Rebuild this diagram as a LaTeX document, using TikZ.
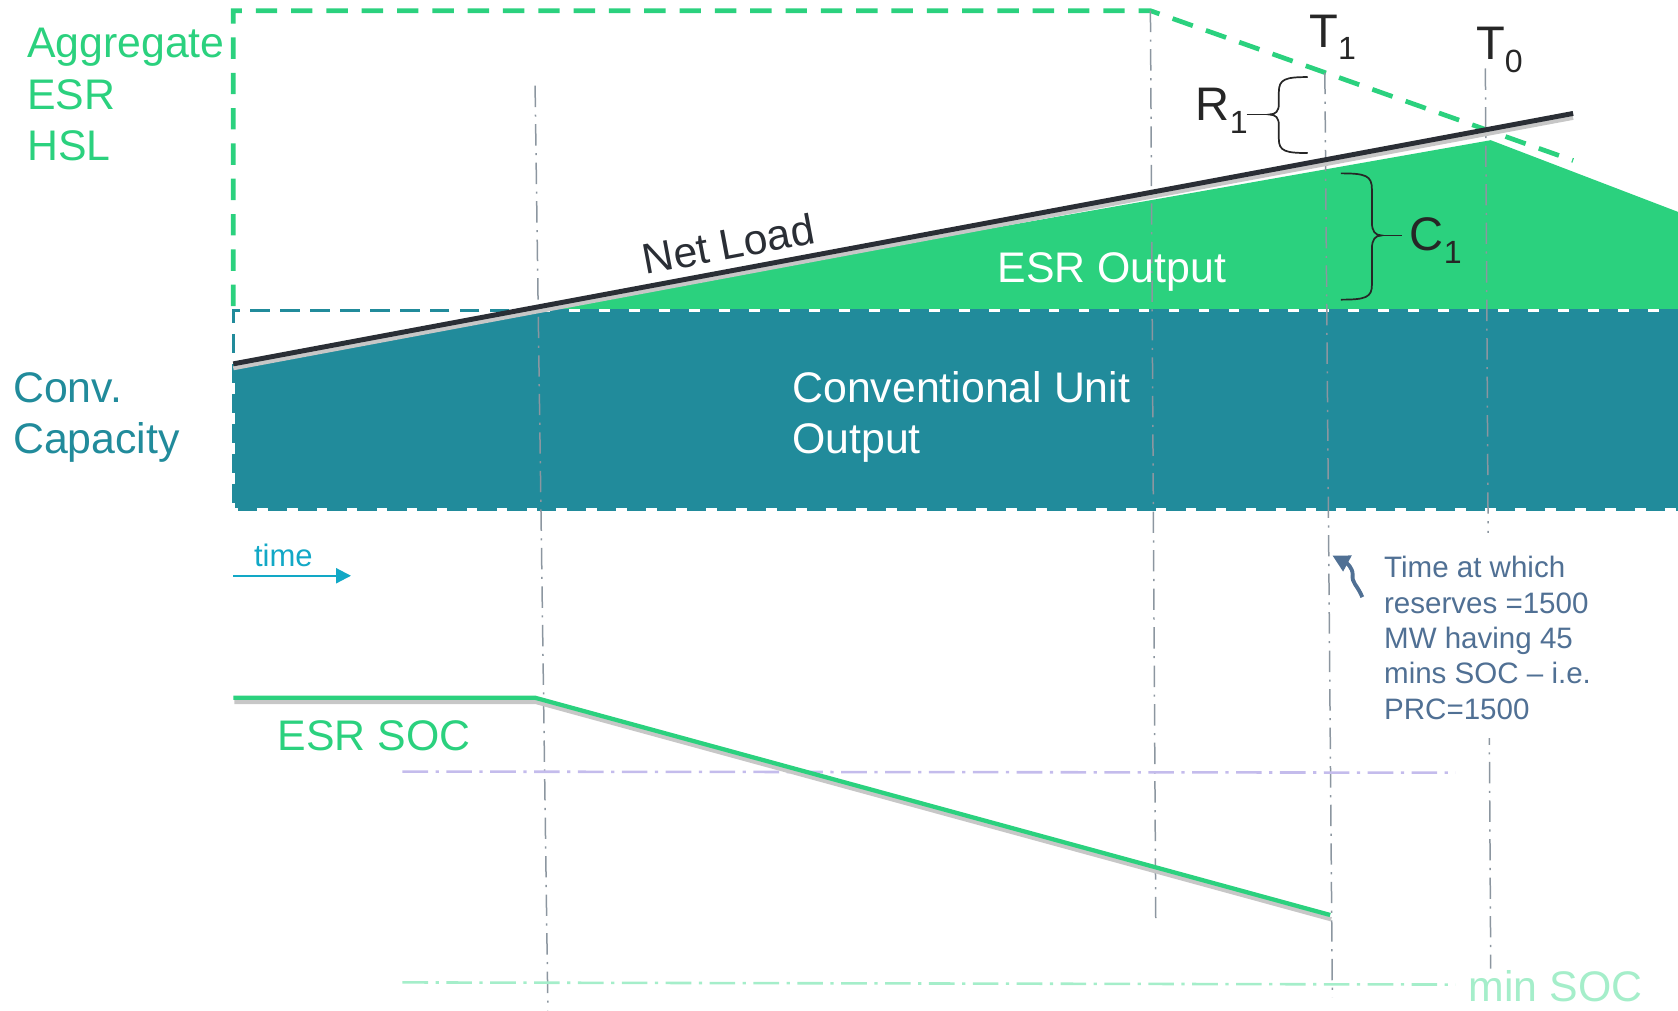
\documentclass[tikz,border=0pt]{standalone}
\usepackage{fontspec}
\setmainfont{Liberation Sans}
\usetikzlibrary{arrows.meta}
\definecolor{esrgreen}{RGB}{43,209,126}
\definecolor{convteal}{RGB}{33,139,155}
\definecolor{netdark}{RGB}{42,46,53}
\definecolor{txtdark}{RGB}{38,38,38}
\definecolor{guidegray}{RGB}{140,150,160}
\definecolor{lav}{RGB}{196,188,236}
\definecolor{mingreen}{RGB}{165,238,202}
\definecolor{timecyan}{RGB}{18,168,198}
\definecolor{callblue}{RGB}{80,112,148}
\newcommand\myfs[2]{\fontsize{#1}{#2}\selectfont}
\newcommand\mysub[1]{\raisebox{-6pt}{\myfs{15}{15}#1}}
\begin{document}
\begin{tikzpicture}[x=0.5pt,y=-0.5pt,
  lbl/.style={font=\myfs{20}{24}, inner sep=0pt, anchor=base west},
  bigl/.style={font=\myfs{22}{26}, inner sep=0pt, anchor=base west, text=txtdark},
  guide/.style={draw=guidegray, line width=0.7pt, dash pattern=on 10pt off 3.5pt on 1pt off 3.5pt},
  hguide/.style={line width=1.2pt, dash pattern=on 12pt off 3.5pt on 1.5pt off 3.5pt},
  bracepath/.style={draw=txtdark, line width=0.8pt},
  calltxt/.style={font=\myfs{13.8}{16.5}, inner sep=0pt, anchor=base west, text=callblue}]
\useasboundingbox (0,0) rectangle (1568,944);

% fills
\fill[convteal] (218,340) -- (486,290) -- (1568,290) -- (1568,476) -- (218,476) -- cycle;
\fill[esrgreen] (492,290) -- (1393,131) -- (1568,198) -- (1568,290) -- cycle;

% conventional box dashed border (open on the right, the box runs off the page)
\draw[white, line width=1.6pt] (1568,290) -- (218,290) -- (218,476) -- (1568,476);
\draw[convteal, line width=1.6pt, dash pattern=on 9pt off 5pt] (1568,290) -- (218,290) -- (218,476) -- (1568,476);

% aggregate ESR HSL dashed outline
\draw[esrgreen, line width=2.2pt, dash pattern=on 10pt off 6.5pt] (218,286) -- (218,10) -- (1075,10) -- (1470,150);

% vertical guides
\draw[guide] (500,80) -- (512,944);
\draw[guide] (1075,10) -- (1080,862);
\draw[guide] (1238,68) -- (1245,932);
\draw[guide] (1388,64) -- (1393,905);

% horizontal SOC guides
\draw[hguide, lav] (376,721) -- (1360,722);
\draw[hguide, mingreen] (376,918) -- (1360,920);

% net load
\draw[black!22, line width=2pt] (218,344) -- (1470,110);
\draw[netdark, line width=2.3pt] (218,340) -- (1470,106);

% ESR SOC line
\draw[black!22, line width=2pt] (219,656) -- (501,656) -- (1244,859);
\draw[esrgreen, line width=2pt] (218,652) -- (500,652) -- (1243,855);

% labels
\node[lbl, text=esrgreen] (agg1) at (25,54) {Aggregate};
\node[lbl, text=esrgreen] (agg2) at (25,102) {ESR};
\node[lbl, text=esrgreen] (agg3) at (25,150) {HSL};
\node[lbl, text=convteal] (cc1) at (12,376) {Conv.};
\node[lbl, text=convteal] (cc2) at (12,424) {Capacity};
\node[lbl, text=white] (cu1) at (740,376) {Conventional Unit};
\node[lbl, text=white] (cu2) at (740,424) {Output};
\node[lbl, text=white] (esro) at (932,264) {ESR Output};
\node[lbl, text=netdark, rotate=10.6] (netl) at (603,257) {Net Load};
\node[lbl, text=esrgreen] (soc) at (259,701) {ESR SOC};
\node[lbl, text=mingreen] (minsoc) at (1372,936) {min SOC};

% T labels
\node[bigl] (t1) at (1223,44) {T\mysub{1}};
\node[bigl] (t0) at (1379,56) {T\mysub{0}};
\node[bigl] (r1) at (1117,113) {R\mysub{1}};
\node[bigl] (c1) at (1317,234) {C\mysub{1}};

% R1 brace
\draw[bracepath] (1222,72) .. controls (1201,72) and (1195,74) .. (1195,86)
  -- (1195,97) .. controls (1195,104) and (1192,107) .. (1186,107)
  .. controls (1192,107) and (1195,110) .. (1195,117)
  -- (1195,130) .. controls (1195,141) and (1201,143) .. (1222,143);
\draw[bracepath] (1165,107) -- (1186,107);

% C1 brace
\draw[bracepath] (1253,162) .. controls (1276,162) and (1282,164) .. (1282,177)
  -- (1282,208) .. controls (1282,216) and (1285,220) .. (1291,220)
  .. controls (1285,220) and (1282,224) .. (1282,232)
  -- (1282,266) .. controls (1282,278) and (1276,280) .. (1253,280);
\draw[bracepath] (1291,220) -- (1310,220);

% time arrow
\node[font=\myfs{14.5}{17}, inner sep=0pt, anchor=base west, text=timecyan] (time) at (237,529) {time};
\coordinate (ts) at (218,538);
\coordinate (te) at (328,538);
\draw[timecyan, line width=1pt, -{Triangle[length=7pt,width=7pt]}] (ts) -- (te);

% callout (white text box hides the T0 guide behind it)
\fill[white] (1280,498) rectangle (1495,690);
\node[calltxt] (cl1) at (1293,540) {Time at which};
\node[calltxt] (cl2) at (1293,573) {reserves =1500};
\node[calltxt] (cl3) at (1293,606) {MW having 45};
\node[calltxt] (cl4) at (1293,639) {mins SOC -- i.e.};
\node[calltxt] (cl5) at (1293,672) {PRC=1500};
\coordinate (cs) at (1273,558);
\coordinate (ce) at (1245,519);
\draw[callblue, line width=1.8pt, -{Triangle[length=8pt,width=8pt]}] (cs) .. controls (1268,546) and (1263,545) .. (1264,537) .. controls (1264,530) and (1258,526) .. (ce);
\end{tikzpicture}
\end{document}
